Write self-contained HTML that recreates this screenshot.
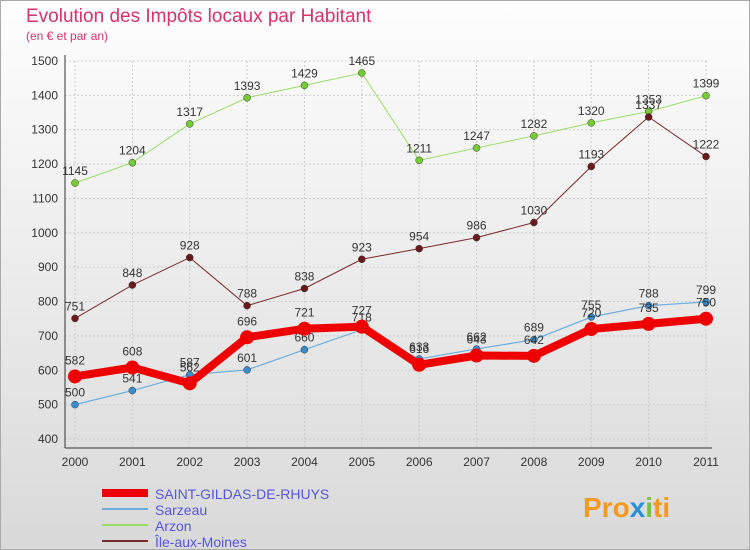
<!DOCTYPE html>
<html><head><meta charset="utf-8"><style>
body{margin:0;width:750px;height:550px;overflow:hidden;font-family:"Liberation Sans",sans-serif}
#c{position:absolute;left:0;top:0;width:748px;height:548px;border:1px solid #aaa;background:linear-gradient(#fefefe,#d9d9d9)}
</style></head><body>
<div id="c"></div>
<svg id="s" width="750" height="550" style="position:absolute;left:0;top:0">
<text x="26" y="22" font-size="19" fill="#d6336c">Evolution des Impôts locaux par Habitant</text>
<text x="26" y="40" font-size="12" fill="#d6336c">(en € et par an)</text>
<g id="axes"></g><g id="series"></g><g id="legend"></g>
<text x="583" y="517" font-size="28" font-weight="bold" fill="#f39a1e">Pro<tspan fill="#2a8fd6">x</tspan><tspan fill="#7cc242">i</tspan><tspan fill="#f39a1e">ti</tspan></text>
</svg>
<script>
const years=[2000,2001,2002,2003,2004,2005,2006,2007,2008,2009,2010,2011];
const yTicks=[400,500,600,700,800,900,1000,1100,1200,1300,1400,1500];
const saintGildas=[582,608,562,696,721,727,616,643,642,720,735,750];
const sarzeau=[500,541,587,601,660,718,633,662,689,755,788,799];
const arzon=[1145,1204,1317,1393,1429,1465,1211,1247,1282,1320,1353,1399];
const ileAuxMoines=[751,848,928,788,838,923,954,986,1030,1193,1337,1222];
const NS='http://www.w3.org/2000/svg';
const X=i=>75+i*(706-75)/(years.length-1);
const Y=v=>61+(1500-v)*(439-61)/1100;
function el(t,a,p){const e=document.createElementNS(NS,t);for(const k in a)e.setAttribute(k,a[k]);p.appendChild(e);return e;}
const ax=document.getElementById('axes');
yTicks.forEach(v=>{
 const g=el('line',{x1:65,x2:708,y1:Y(v),y2:Y(v),stroke:'#ccc','stroke-dasharray':'2,2'},ax);
 
 
 const t=el('text',{x:58,y:Y(v)+4,'font-size':12,'text-anchor':'end',fill:'#333'},ax);t.textContent=v;
 
 
});
years.forEach((y,i)=>{
 const g=el('line',{x1:X(i),x2:X(i),y1:61,y2:448,stroke:'#ccc','stroke-dasharray':'2,2'},ax);
 
 
 const t=el('text',{x:X(i),y:466,'font-size':12,'text-anchor':'middle',fill:'#333'},ax);t.textContent=y;
 
 
});
const a1=el('line',{x1:65,x2:65,y1:55,y2:448,stroke:'#333'},ax);


const a2=el('line',{x1:65,x2:712,y1:448,y2:448,stroke:'#333'},ax);


const sg=document.getElementById('series');
const defs=[
 {n:'arzon',d:arzon,c:'#99dd66',dot:'#77cc33',w:1,r:3.5},
 {n:'ile-aux-moines',d:ileAuxMoines,c:'#7a2a2a',dot:'#6a1a1a',w:1,r:3.5},
 {n:'sarzeau',d:sarzeau,c:'#6aaee0',dot:'#3a8ccc',w:1.2,r:3.5},
 {n:'saint-gildas',d:saintGildas,c:'#ee0000',dot:'#ee0000',w:8,r:7}];
defs.forEach(s=>{
 const p=el('polyline',{points:s.d.map((v,i)=>X(i)+','+Y(v)).join(' '),fill:'none',stroke:s.c,'stroke-width':s.w},sg);
 
 
 s.d.forEach((v,i)=>{
  const c=el('circle',{cx:X(i),cy:Y(v),r:s.r,fill:s.dot,stroke:s.w>2?'none':'#333','stroke-width':0.5},sg);
  
  
  const t=el('text',{x:X(i),y:Y(v)-(s.w>2?12:8),'font-size':12,'text-anchor':'middle',fill:'#333'},sg);t.textContent=v;
  
  
 });
});
const lg=document.getElementById('legend');
[['SAINT-GILDAS-DE-RHUYS','#ee0000',8],['Sarzeau','#6aaee0',2],['Arzon','#99dd66',2],['Île-aux-Moines','#7a2a2a',2]].forEach((e,i)=>{
 const y=493+i*16;
 const l=el('line',{x1:102,x2:148,y1:y,y2:y,stroke:e[1],'stroke-width':e[2]},lg);
 
 
 const t=el('text',{x:155,y:y+6,'font-size':14,fill:'#5555dd'},lg);t.textContent=e[0];
 
 
});
</script>
</body></html>
